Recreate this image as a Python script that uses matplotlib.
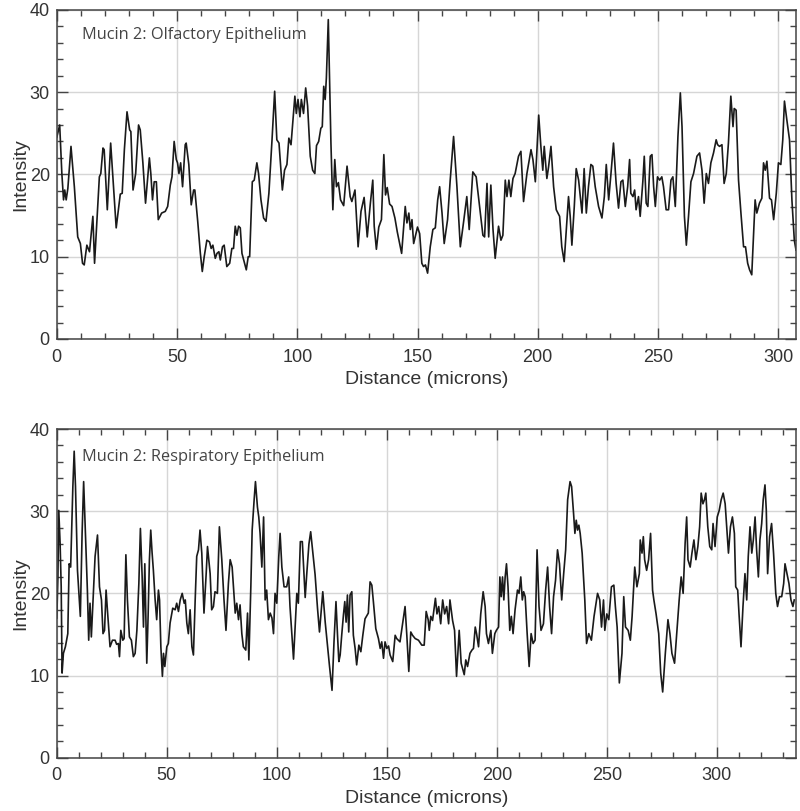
import matplotlib
matplotlib.use("Agg")
import matplotlib.pyplot as plt
from matplotlib.ticker import MultipleLocator

# Mucin 2 intensity profiles
olf_x = [0.0, 1.2, 2.1, 2.8, 3.3, 3.9, 4.6, 5.9, 7.3, 8.7, 9.8, 10.7, 11.4, 12.5, 13.6, 15.0, 15.7,
         17.0, 17.7, 18.3, 19.2, 19.7, 21.0, 22.4, 23.6, 24.7, 26.4, 27.2, 28.1, 29.2, 30.3, 30.8,
         31.7, 32.8, 34.0, 34.7, 35.8, 36.9, 38.5, 39.1, 39.8, 40.5, 41.4, 42.2, 43.6, 45.1, 46.1,
         47.2, 47.9, 48.8, 49.7, 50.2, 50.8, 51.5, 52.3, 53.4, 53.8, 54.9, 55.9, 56.9, 57.4, 58.6,
         59.7, 60.5, 61.3, 62.4, 63.5, 64.2, 64.9, 65.9, 66.6, 67.4, 68.0, 68.9, 69.6, 70.7, 71.9,
         72.8, 73.5, 74.2, 74.9, 75.6, 76.3, 77.0, 78.1, 78.8, 79.6, 80.2, 81.3, 82.1, 83.2, 83.9,
         84.9, 86.0, 87.0, 88.2, 89.5, 90.6, 91.5, 92.4, 93.8, 94.7, 95.7, 96.5, 97.4, 98.2, 99.0,
         99.6, 100.3, 101.1, 101.7, 102.6, 103.5, 104.3, 105.4, 106.4, 107.3, 108.0, 108.9, 109.8,
         110.4, 111.0, 111.6, 112.1, 112.9, 113.4, 114.0, 114.8, 115.6, 116.3, 117.1, 118.0, 119.3,
         120.7, 122.0, 122.7, 124.0, 125.3, 126.5, 127.8, 129.1, 130.4, 131.4, 132.0, 132.9, 133.9,
         135.0, 136.0, 136.7, 137.4, 138.4, 139.4, 140.6, 141.6, 142.3, 143.4, 144.9, 145.6, 146.4,
         147.0, 147.7, 148.4, 149.1, 150.0, 150.9, 151.8, 152.5, 153.3, 154.2, 155.3, 156.4, 157.4,
         158.4, 159.2, 160.2, 161.1, 162.5, 163.6, 165.0, 166.4, 167.8, 169.2, 170.5, 171.5, 173.0,
         174.4, 175.8, 177.2, 177.9, 178.9, 179.6, 180.5, 181.4, 182.3, 183.7, 184.7, 185.5, 186.5,
         187.2, 188.0, 188.8, 189.7, 190.6, 192.0, 193.0, 194.1, 195.5, 197.2, 198.0, 199.0, 200.4,
         201.3, 202.1, 202.7, 203.8, 204.5, 205.5, 206.6, 207.7, 209.1, 210.0, 211.0, 211.9, 212.8,
         213.5, 214.2, 215.2, 216.0, 217.0, 218.4, 219.3, 220.2, 221.1, 222.1, 222.9, 223.9, 225.3,
         226.7, 227.7, 228.5, 229.5, 230.4, 231.5, 232.6, 233.6, 234.6, 235.4, 236.4, 237.4, 238.2,
         238.7, 239.6, 240.3, 240.9, 241.9, 242.6, 243.7, 244.3, 245.1, 245.8, 246.8, 247.5, 248.2,
         248.9, 249.8, 250.7, 251.6, 252.3, 253.4, 254.4, 255.4, 256.2, 257.2, 258.3, 259.3, 260.0,
         261.0, 261.8, 262.7, 263.7, 264.8, 266.2, 267.3, 268.3, 269.2, 270.1, 271.0, 272.0, 273.1,
         274.2, 274.8, 275.6, 276.6, 277.5, 278.4, 279.3, 280.3, 281.2, 281.7, 282.5, 283.5, 284.5,
         285.6, 286.4, 287.3, 288.1, 289.0, 289.7, 290.4, 291.1, 292.2, 293.2, 293.9, 294.6, 295.3,
         296.4, 297.2, 298.1, 299.2, 300.1, 301.1, 301.9, 302.6, 303.6, 304.7, 305.7, 306.7, 307.4]
olf_y = [24.5, 26.0, 20.1, 16.9, 18.1, 16.9, 18.3, 23.4, 18.5, 12.4, 11.6, 9.2, 9.0, 11.4, 10.6, 14.9, 9.2,
         15.9, 19.7, 20.1, 23.2, 23.0, 15.7, 23.8, 18.5, 13.5, 17.6, 17.7, 23.0, 27.6, 25.4, 25.2,
         18.1, 20.1, 26.0, 25.4, 21.4, 16.5, 22.0, 20.1, 16.9, 19.1, 19.1, 14.5, 15.3, 15.5, 16.1,
         18.7, 19.7, 24.0, 21.8, 21.4, 20.1, 21.4, 18.5, 23.6, 23.8, 21.2, 16.3, 18.1, 18.1, 14.3,
         10.4, 8.2, 10.0, 12.0, 11.8, 11.0, 11.4, 9.8, 10.4, 10.6, 9.6, 11.2, 11.4, 8.8, 9.2,
         11.0, 11.0, 13.7, 12.6, 13.7, 13.5, 10.4, 9.2, 8.4, 10.0, 10.0, 19.1, 19.3, 21.4, 20.1,
         16.9, 14.7, 14.3, 17.7, 24.2, 30.1, 24.2, 23.8, 18.1, 20.5, 21.2, 24.4, 23.6, 26.6, 29.5,
         27.4, 29.1, 27.0, 29.1, 27.4, 30.5, 28.3, 22.2, 20.5, 20.1, 23.5, 24.0, 25.6,
         25.8, 30.7, 29.1, 31.7, 38.8, 31.9, 23.8, 15.7, 21.8, 18.5, 19.0, 16.9, 16.2,
         21.0, 17.3, 16.7, 18.1, 11.2, 15.5, 17.2, 12.4, 16.5, 19.3, 13.7, 10.9, 13.6,
         14.5, 22.4, 17.5, 18.4, 16.4, 16.1, 14.7, 13.0, 12.0, 10.4, 16.1, 14.1, 15.3,
         13.3, 14.5, 11.6, 12.5, 13.6, 12.8, 9.2, 8.8, 9.0, 8.0, 11.2, 13.3, 13.5,
         16.9, 18.5, 15.3, 11.6, 14.5, 19.3, 24.6, 18.5, 11.2, 14.3, 17.3, 13.3, 20.3,
         19.7, 16.1, 12.6, 12.4, 18.9, 12.4, 18.7, 13.3, 9.8, 13.7, 12.0, 12.6, 19.3,
         17.3, 19.3, 17.3, 19.5, 20.1, 22.2, 22.8, 16.7, 20.1, 23.0, 21.8, 19.1, 27.2,
         23.4, 20.5, 23.4, 19.5, 20.9, 23.4, 18.5, 15.7, 14.9, 11.2, 9.4, 13.3, 17.3,
         14.9, 11.4, 16.1, 20.7, 19.3, 15.3, 20.7, 15.3, 18.5, 21.2, 21.0, 18.5, 16.1,
         14.7, 17.3, 21.2, 16.9, 19.9, 23.8, 18.9, 15.9, 19.1, 19.3, 16.1, 18.5, 21.8,
         17.7, 17.3, 18.1, 15.7, 17.3, 14.9, 19.1, 22.2, 16.5, 16.1, 22.2, 22.4, 18.5,
         16.1, 19.7, 19.3, 19.7, 18.5, 15.7, 15.7, 19.3, 19.7, 16.1, 24.6, 29.9, 25.8,
         14.9, 11.4, 14.9, 19.1, 20.1, 22.2, 22.6, 20.5, 16.5, 20.1, 18.9, 21.4, 22.6,
         24.2, 23.6, 23.4, 23.6, 18.9, 20.1, 23.8, 29.5, 25.8, 28.0, 27.8, 19.3, 15.3,
         11.2, 11.2, 9.2, 8.4, 7.8, 12.4, 16.9, 15.3, 16.5, 17.1, 21.4, 20.5, 21.6,
         17.1, 16.9, 14.5, 17.7, 21.4, 21.2, 24.2, 28.9, 26.6, 24.2, 16.9, 12.0, 10.8]

resp_x = [0.0, 0.5, 0.9, 1.5, 2.0, 2.4, 3.0, 3.9, 5.0, 5.6, 6.3, 7.3, 7.9, 8.5, 9.4, 10.7, 11.5, 12.2,
          13.0, 13.9, 14.5, 15.1, 15.7, 16.4, 17.4, 18.5, 19.4, 20.3, 21.0, 21.7, 22.4, 23.0, 24.2,
          25.3, 26.5, 27.2, 28.0, 28.5, 29.1, 30.0, 30.6, 31.4, 32.1, 33.0, 33.9, 34.8, 35.6, 36.4,
          37.3, 38.0, 38.8, 39.4, 40.0, 40.9, 41.5, 42.1, 42.7, 43.3, 43.9, 44.7, 45.4, 46.2, 46.7,
          47.3, 48.0, 48.5, 49.1, 50.0, 50.7, 51.5, 52.7, 53.8, 54.5, 55.3, 56.1, 57.0, 57.9, 58.4,
          59.1, 59.8, 60.6, 61.4, 62.1, 62.9, 63.6, 64.4, 65.1, 65.9, 66.9, 67.9, 68.5, 69.7, 70.4,
          71.2, 71.9, 73.0, 73.9, 75.0, 76.0, 76.9, 78.0, 78.8, 79.7, 80.3, 81.1, 81.8, 82.6, 83.3,
          84.1, 84.8, 85.9, 86.7, 87.3, 88.2, 88.8, 89.7, 90.3, 91.2, 91.8, 92.4, 93.2, 94.0, 94.7,
          95.4, 96.2, 97.0, 97.8, 98.5, 99.2, 100.0, 100.9, 101.5, 102.3, 103.3, 104.5, 105.4, 106.0,
          107.6, 109.1, 109.8, 110.7, 111.6, 112.9, 113.6, 114.6, 115.4, 116.3, 117.4, 118.5, 119.4,
          120.9, 122.0, 123.0, 123.9, 125.1, 126.0, 126.9, 127.6, 128.2, 128.8, 129.5, 130.3, 130.9,
          131.5, 132.1, 132.7, 133.3, 134.1, 134.8, 135.6, 136.3, 137.3, 138.2, 139.1, 140.1, 141.6,
          142.4, 143.2, 143.9, 145.0, 146.2, 147.0, 147.7, 148.5, 149.2, 150.0, 150.8, 151.5, 152.7,
          153.8, 154.5, 156.0, 157.3, 158.3, 159.1, 160.0, 160.9, 161.7, 162.9, 164.4, 165.9, 167.0,
          167.9, 168.8, 169.3, 170.0, 170.8, 172.1, 172.8, 173.6, 174.5, 175.4, 176.3, 177.2, 178.1,
          178.7, 179.9, 180.8, 181.7, 182.9, 183.8, 185.2, 185.9, 186.7, 187.8, 188.7, 189.4, 190.2,
          190.8, 191.7, 192.7, 193.8, 194.7, 195.3, 196.2, 197.3, 198.0, 199.1, 199.8, 200.8, 201.4,
          202.0, 202.6, 203.2, 203.8, 204.4, 205.1, 205.9, 206.6, 207.4, 208.3, 209.4, 210.1, 210.9,
          211.6, 212.2, 212.9, 213.8, 214.7, 215.6, 216.5, 217.4, 218.3, 219.2, 220.1, 221.2, 222.2,
          223.1, 224.0, 224.9, 225.8, 226.7, 227.6, 228.5, 229.5, 230.4, 231.3, 232.2, 233.3, 234.0,
          234.9, 235.5, 236.1, 236.7, 237.3, 237.9, 238.8, 240.0, 240.8, 241.8, 243.0, 244.2, 245.8,
          246.8, 247.6, 248.5, 249.1, 250.0, 250.9, 252.1, 253.2, 253.9, 254.7, 255.7, 256.9, 257.7,
          258.5, 259.7, 260.7, 261.5, 262.7, 263.7, 264.8, 265.2, 266.0, 266.6, 267.2, 268.1, 269.0,
          269.9, 270.8, 271.4, 272.4, 273.6, 274.5, 275.4, 276.6, 277.8, 278.7, 279.6, 280.8, 282.0,
          282.9, 283.8, 284.7, 285.6, 286.3, 286.9, 287.9, 288.7, 289.6, 290.5, 291.4, 292.2, 292.9,
          293.7, 294.4, 295.0, 295.9, 296.8, 297.7, 298.3, 299.2, 300.2, 301.1, 302.0, 302.9, 303.8,
          304.7, 305.3, 306.2, 307.1, 308.0, 308.6, 309.5, 310.1, 311.0, 311.9, 312.8, 313.6, 314.3,
          315.1, 315.9, 316.6, 317.4, 318.1, 318.9, 319.6, 320.4, 321.1, 321.9, 322.5, 323.1, 324.0,
          324.9, 325.8, 326.8, 327.6, 328.5, 329.5, 330.4, 331.0, 331.9, 332.8, 333.7, 334.6, 335.2]
resp_y = [17.0, 22.0, 30.1, 26.1, 20.8, 10.3, 12.7, 13.5, 15.1, 23.6, 23.2, 33.0, 37.3, 33.0, 22.8, 17.2, 27.3, 33.6,
          27.3, 20.4, 14.3, 18.8, 14.7, 18.8, 24.5, 27.1, 20.8, 19.2, 15.1, 15.5, 20.4, 18.0, 13.5,
          14.3, 14.3, 13.8, 13.9, 12.3, 15.5, 14.3, 14.5, 24.7, 19.2, 14.7, 14.3, 12.3, 12.7, 15.5,
          21.2, 27.9, 22.0, 15.9, 23.6, 11.5, 17.2, 24.1, 27.7, 25.0, 22.8, 19.2, 16.8, 20.4, 19.2,
          13.5, 9.9, 12.7, 11.1, 13.5, 13.9, 16.4, 18.2, 18.0, 18.8, 17.8, 19.2, 20.0, 18.8, 19.2,
          16.4, 15.1, 18.0, 13.5, 12.5, 19.2, 24.5, 25.3, 27.7, 24.9, 17.6, 22.4, 25.7, 22.4, 18.0,
          18.4, 20.2, 20.0, 28.1, 24.1, 19.2, 15.5, 21.2, 24.1, 23.2, 20.8, 17.6, 18.8, 16.8, 18.6,
          15.1, 13.5, 13.1, 17.6, 11.9, 20.8, 27.7, 31.4, 33.6, 30.5, 29.3, 27.3, 23.2, 29.3, 19.2,
          20.4, 16.8, 17.6, 17.0, 15.1, 20.0, 18.8, 24.5, 27.3, 23.2, 20.8, 20.8, 22.0, 18.4,
          12.0, 20.0, 18.8, 26.3, 26.3, 19.5, 22.3, 26.0, 27.5, 25.1, 22.3, 18.2, 15.3,
          20.2, 16.5, 13.7, 11.3, 8.2, 14.1, 19.0, 14.9, 11.7, 12.5, 14.9, 17.4, 19.0,
          16.5, 19.8, 15.3, 19.8, 20.2, 14.9, 13.3, 11.3, 13.7, 12.9, 14.9, 16.9, 17.6,
          21.4, 21.0, 19.0, 15.7, 14.5, 13.3, 14.1, 12.1, 14.1, 13.3, 13.6, 12.5, 11.7,
          14.9, 14.5, 14.1, 16.5, 18.4, 14.9, 10.5, 15.3, 14.9, 14.5, 14.3, 13.7, 13.7,
          17.8, 16.8, 15.5, 17.2, 16.7, 19.4, 17.5, 18.4, 16.3, 19.2, 17.5, 18.4, 16.3,
          19.2, 16.7, 15.5, 9.9, 15.5, 11.5, 10.1, 11.9, 11.1, 12.7, 13.1, 13.3, 15.9,
          15.1, 13.5, 17.5, 20.2, 18.4, 15.1, 13.9, 15.5, 12.7, 15.1, 15.5, 15.9, 22.0,
          19.6, 22.0, 19.2, 22.0, 23.6, 20.8, 15.5, 17.2, 15.1, 18.0, 20.4, 20.0, 22.0,
          19.2, 20.2, 19.6, 15.1, 11.1, 15.1, 13.9, 14.3, 25.3, 18.4, 15.5, 16.3, 20.4,
          23.2, 18.4, 15.1, 19.6, 21.6, 25.3, 23.6, 19.2, 22.4, 25.3, 31.4, 33.6, 33.0,
          29.7, 27.3, 28.9, 27.7, 28.3, 27.3, 24.9, 19.2, 13.9, 15.1, 14.3, 17.2, 20.0,
          19.2, 15.9, 19.2, 15.5, 17.5, 16.8, 20.8, 21.0, 18.4, 15.9, 9.1, 12.7, 19.6,
          15.9, 15.5, 14.3, 17.2, 23.2, 20.8, 22.4, 26.5, 24.9, 26.9, 24.1, 22.8, 24.1,
          27.3, 20.4, 19.2, 17.5, 15.1, 10.3, 8.0, 12.7, 16.8, 15.1, 12.7, 11.5, 15.9,
          19.2, 22.0, 20.0, 26.1, 29.3, 24.1, 23.2, 24.9, 26.5, 24.1, 25.7, 28.1, 32.2,
          30.9, 31.4, 32.2, 28.1, 25.7, 25.3, 28.5, 25.7, 29.3, 30.1, 31.4, 32.2, 30.9,
          27.3, 24.9, 28.1, 29.3, 27.3, 20.8, 20.4, 17.5, 13.5, 18.4, 22.4, 19.2, 24.5,
          28.1, 24.9, 26.5, 29.3, 25.3, 22.0, 26.5, 28.5, 31.4, 33.2, 30.1, 22.4, 26.9,
          28.5, 24.9, 20.0, 18.4, 19.6, 19.6, 21.2, 23.6, 22.4, 21.2, 19.2, 18.4, 19.2]

panels = [
    ("Mucin 2: Olfactory Epithelium", olf_x, olf_y, 307.4, [0.071, 0.582, 0.924, 0.406], 0.924),
    ("Mucin 2: Respiratory Epithelium", resp_x, resp_y, 336.0, [0.071, 0.0657, 0.924, 0.4053], 0.915),
]

fig = plt.figure(figsize=(8.0, 8.11), dpi=100)

for title, xs, ys, xmax, rect, ty in panels:
    ax = fig.add_axes(rect)
    ax.plot(xs, ys, color="#1a1a1a", linewidth=1.2)
    ax.set_xlim(0, xmax)
    ax.set_ylim(0, 40)
    ax.xaxis.set_major_locator(MultipleLocator(50))
    ax.xaxis.set_minor_locator(MultipleLocator(10))
    ax.yaxis.set_major_locator(MultipleLocator(10))
    ax.yaxis.set_minor_locator(MultipleLocator(2))
    ax.grid(True, which="major", color="#d6d6d6", linewidth=1.0)
    ax.set_axisbelow(True)
    for sp in ax.spines.values():
        sp.set_color("#444444")
        sp.set_linewidth(1.1)
    ax.tick_params(which="both", direction="in", top=True, right=True,
                   color="#444444", width=1.0, labelsize=13, labelcolor="#333333")
    ax.tick_params(which="major", length=8)
    ax.tick_params(axis="x", which="major", pad=7)
    ax.tick_params(axis="y", which="major", pad=5)
    ax.tick_params(which="minor", length=4.5)
    for lab in ax.get_xticklabels() + ax.get_yticklabels():
        lab.set_family("Liberation Sans")
    ax.set_xlabel("Distance (microns)", fontsize=14, color="#333333",
                  family="Liberation Sans", labelpad=4)
    ax.set_ylabel("Intensity", fontsize=14, color="#333333",
                  family="Liberation Sans", labelpad=0)
    ax.text(0.034, ty, title, transform=ax.transAxes, fontsize=11.8,
            color="#444444", family="Open Sans", va="center", ha="left")

fig.savefig("out.png", dpi=100)
